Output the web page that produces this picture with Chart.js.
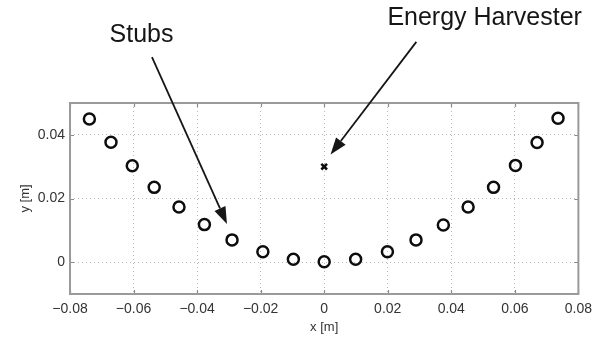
<!DOCTYPE html>
<html>
<head>
<meta charset="utf-8">
<script src="https://cdn.jsdelivr.net/npm/chart.js@4.4.1/dist/chart.umd.min.js"></script>
<style>
  html, body { margin: 0; padding: 0; background: #fff; }
  #wrap { width: 599px; height: 338px; }
</style>
</head>
<body>
<div id="wrap"><canvas id="layout" width="599" height="338"></canvas></div>
<script>
// stub positions along the curved array
const stubX = [-0.0739, -0.0671, -0.0604, -0.0535, -0.0457, -0.0377, -0.0290, -0.0193, -0.0097, 0.0000,
               0.0099, 0.0199, 0.0289, 0.0375, 0.0453, 0.0533, 0.0602, 0.0670, 0.0736];
const stubY = [0.0450, 0.0377, 0.0303, 0.0235, 0.0173, 0.0118, 0.0070, 0.0033, 0.0009, 0.0001,
               0.0009, 0.0033, 0.0070, 0.0117, 0.0173, 0.0235, 0.0304, 0.0376, 0.0452];

// harvester location
const harvesterX = [0.0];
const harvesterY = [0.030];

// axes
const xTicks = [-0.08, -0.06, -0.04, -0.02, 0, 0.02, 0.04, 0.06, 0.08];
const xTickLabels = ['\u22120.08', '\u22120.06', '\u22120.04', '\u22120.02', '0', '0.02', '0.04', '0.06', '0.08'];
const yTicks = [0, 0.02, 0.04];
const yTickLabels = ['0', '0.02', '0.04'];

// callouts: label, text anchor and arrow (tail -> tip), in data units
const calloutText = ['Stubs', 'Energy Harvester'];
const calloutTextPos = [[-0.0575, 0.0692], [0.0505, 0.0744]];
const calloutArrows = [
  [[-0.0542, 0.0644], [-0.0306, 0.0120]],
  [[0.0290, 0.0692], [0.0020, 0.0338]]
];

const FONT = "'Liberation Sans', Arial, Helvetica, sans-serif";

const frameAndTicks = {
  id: 'frameAndTicks',
  beforeDatasetsDraw(chart) {
    const { ctx, chartArea: a, scales: { x, y } } = chart;
    ctx.save();
    ctx.strokeStyle = '#8a8a8a';
    ctx.lineWidth = 1.2;
    const len = 4;
    ctx.beginPath();
    xTicks.forEach(v => {
      const px = Math.round(x.getPixelForValue(v)) + 0.5;
      ctx.moveTo(px, a.bottom); ctx.lineTo(px, a.bottom - len);
      ctx.moveTo(px, a.top); ctx.lineTo(px, a.top + len);
    });
    yTicks.forEach(v => {
      const py = Math.round(y.getPixelForValue(v)) + 0.5;
      ctx.moveTo(a.left, py); ctx.lineTo(a.left + len, py);
      ctx.moveTo(a.right, py); ctx.lineTo(a.right - len, py);
    });
    ctx.stroke();
    ctx.lineWidth = 2;
    ctx.strokeStyle = '#9a9a9a';
    ctx.strokeRect(a.left, a.top, a.right - a.left, a.bottom - a.top);
    ctx.restore();
  }
};

const callouts = {
  id: 'callouts',
  afterDatasetsDraw(chart) {
    const { ctx, scales: { x, y } } = chart;
    ctx.save();
    ctx.fillStyle = '#161616';
    ctx.strokeStyle = '#161616';
    ctx.font = '25px ' + FONT;
    ctx.textAlign = 'center';
    ctx.textBaseline = 'alphabetic';
    calloutText.forEach((t, i) => {
      const [tx, ty] = calloutTextPos[i];
      ctx.fillText(t, x.getPixelForValue(tx), y.getPixelForValue(ty));
    });
    calloutArrows.forEach(([tail, tip]) => {
      const x0 = x.getPixelForValue(tail[0]), y0 = y.getPixelForValue(tail[1]);
      const x1 = x.getPixelForValue(tip[0]), y1 = y.getPixelForValue(tip[1]);
      const ang = Math.atan2(y1 - y0, x1 - x0);
      const headLen = 17, headW = 6;
      const bx = x1 - headLen * Math.cos(ang), by = y1 - headLen * Math.sin(ang);
      ctx.lineWidth = 1.8;
      ctx.beginPath();
      ctx.moveTo(x0, y0);
      ctx.lineTo(bx, by);
      ctx.stroke();
      ctx.beginPath();
      ctx.moveTo(x1, y1);
      ctx.lineTo(bx + headW * Math.sin(ang), by - headW * Math.cos(ang));
      ctx.lineTo(bx - headW * Math.sin(ang), by + headW * Math.cos(ang));
      ctx.closePath();
      ctx.fill();
    });
    ctx.restore();
  }
};

new Chart(document.getElementById('layout'), {
  type: 'scatter',
  data: {
    datasets: [
      {
        label: 'Stubs',
        data: stubX.map((v, i) => ({ x: v, y: stubY[i] })),
        pointStyle: 'circle',
        pointRadius: 5.5,
        pointBorderWidth: 2.5,
        borderColor: '#0d0d0d',
        backgroundColor: 'rgba(255,255,255,0)'
      },
      {
        label: 'Energy Harvester',
        data: harvesterX.map((v, i) => ({ x: v, y: harvesterY[i] })),
        pointStyle: 'crossRot',
        pointRadius: 4,
        pointBorderWidth: 2.5,
        borderColor: '#0d0d0d',
        backgroundColor: '#0d0d0d'
      }
    ]
  },
  options: {
    responsive: false,
    animation: false,
    layout: { padding: { top: 103, right: 19, left: 0, bottom: 0 } },
    plugins: {
      legend: { display: false },
      tooltip: { enabled: false }
    },
    scales: {
      x: {
        type: 'linear',
        min: -0.08,
        max: 0.08,
        afterBuildTicks: s => { s.ticks = xTicks.map(v => ({ value: v })); },
        afterFit: s => { s.height = 44; },
        ticks: {
          callback: (v, i) => xTickLabels[i],
          color: '#333',
          font: { family: FONT, size: 14 },
          padding: 7,
          maxRotation: 0,
          autoSkip: false
        },
        grid: {
          color: '#b8b8b8',
          lineWidth: 1,
          drawTicks: false
        },
        border: { display: false, dash: [1, 3] },
        title: {
          display: true,
          text: 'x [m]',
          color: '#333',
          font: { family: FONT, size: 13 },
          padding: { top: 0, bottom: 3 }
        }
      },
      y: {
        type: 'linear',
        min: -0.01,
        max: 0.05,
        afterBuildTicks: s => { s.ticks = yTicks.map(v => ({ value: v })); },
        afterFit: s => { s.width = 70; },
        ticks: {
          callback: (v, i) => yTickLabels[i],
          color: '#333',
          font: { family: FONT, size: 14 },
          padding: 5,
          autoSkip: false
        },
        grid: {
          color: '#b8b8b8',
          lineWidth: 1,
          drawTicks: false
        },
        border: { display: false, dash: [1, 3] },
        title: {
          display: true,
          text: 'y [m]',
          color: '#333',
          font: { family: FONT, size: 13 },
          padding: { top: 18, bottom: 0 }
        }
      }
    }
  },
  plugins: [frameAndTicks, callouts]
});
</script>
</body>
</html>
